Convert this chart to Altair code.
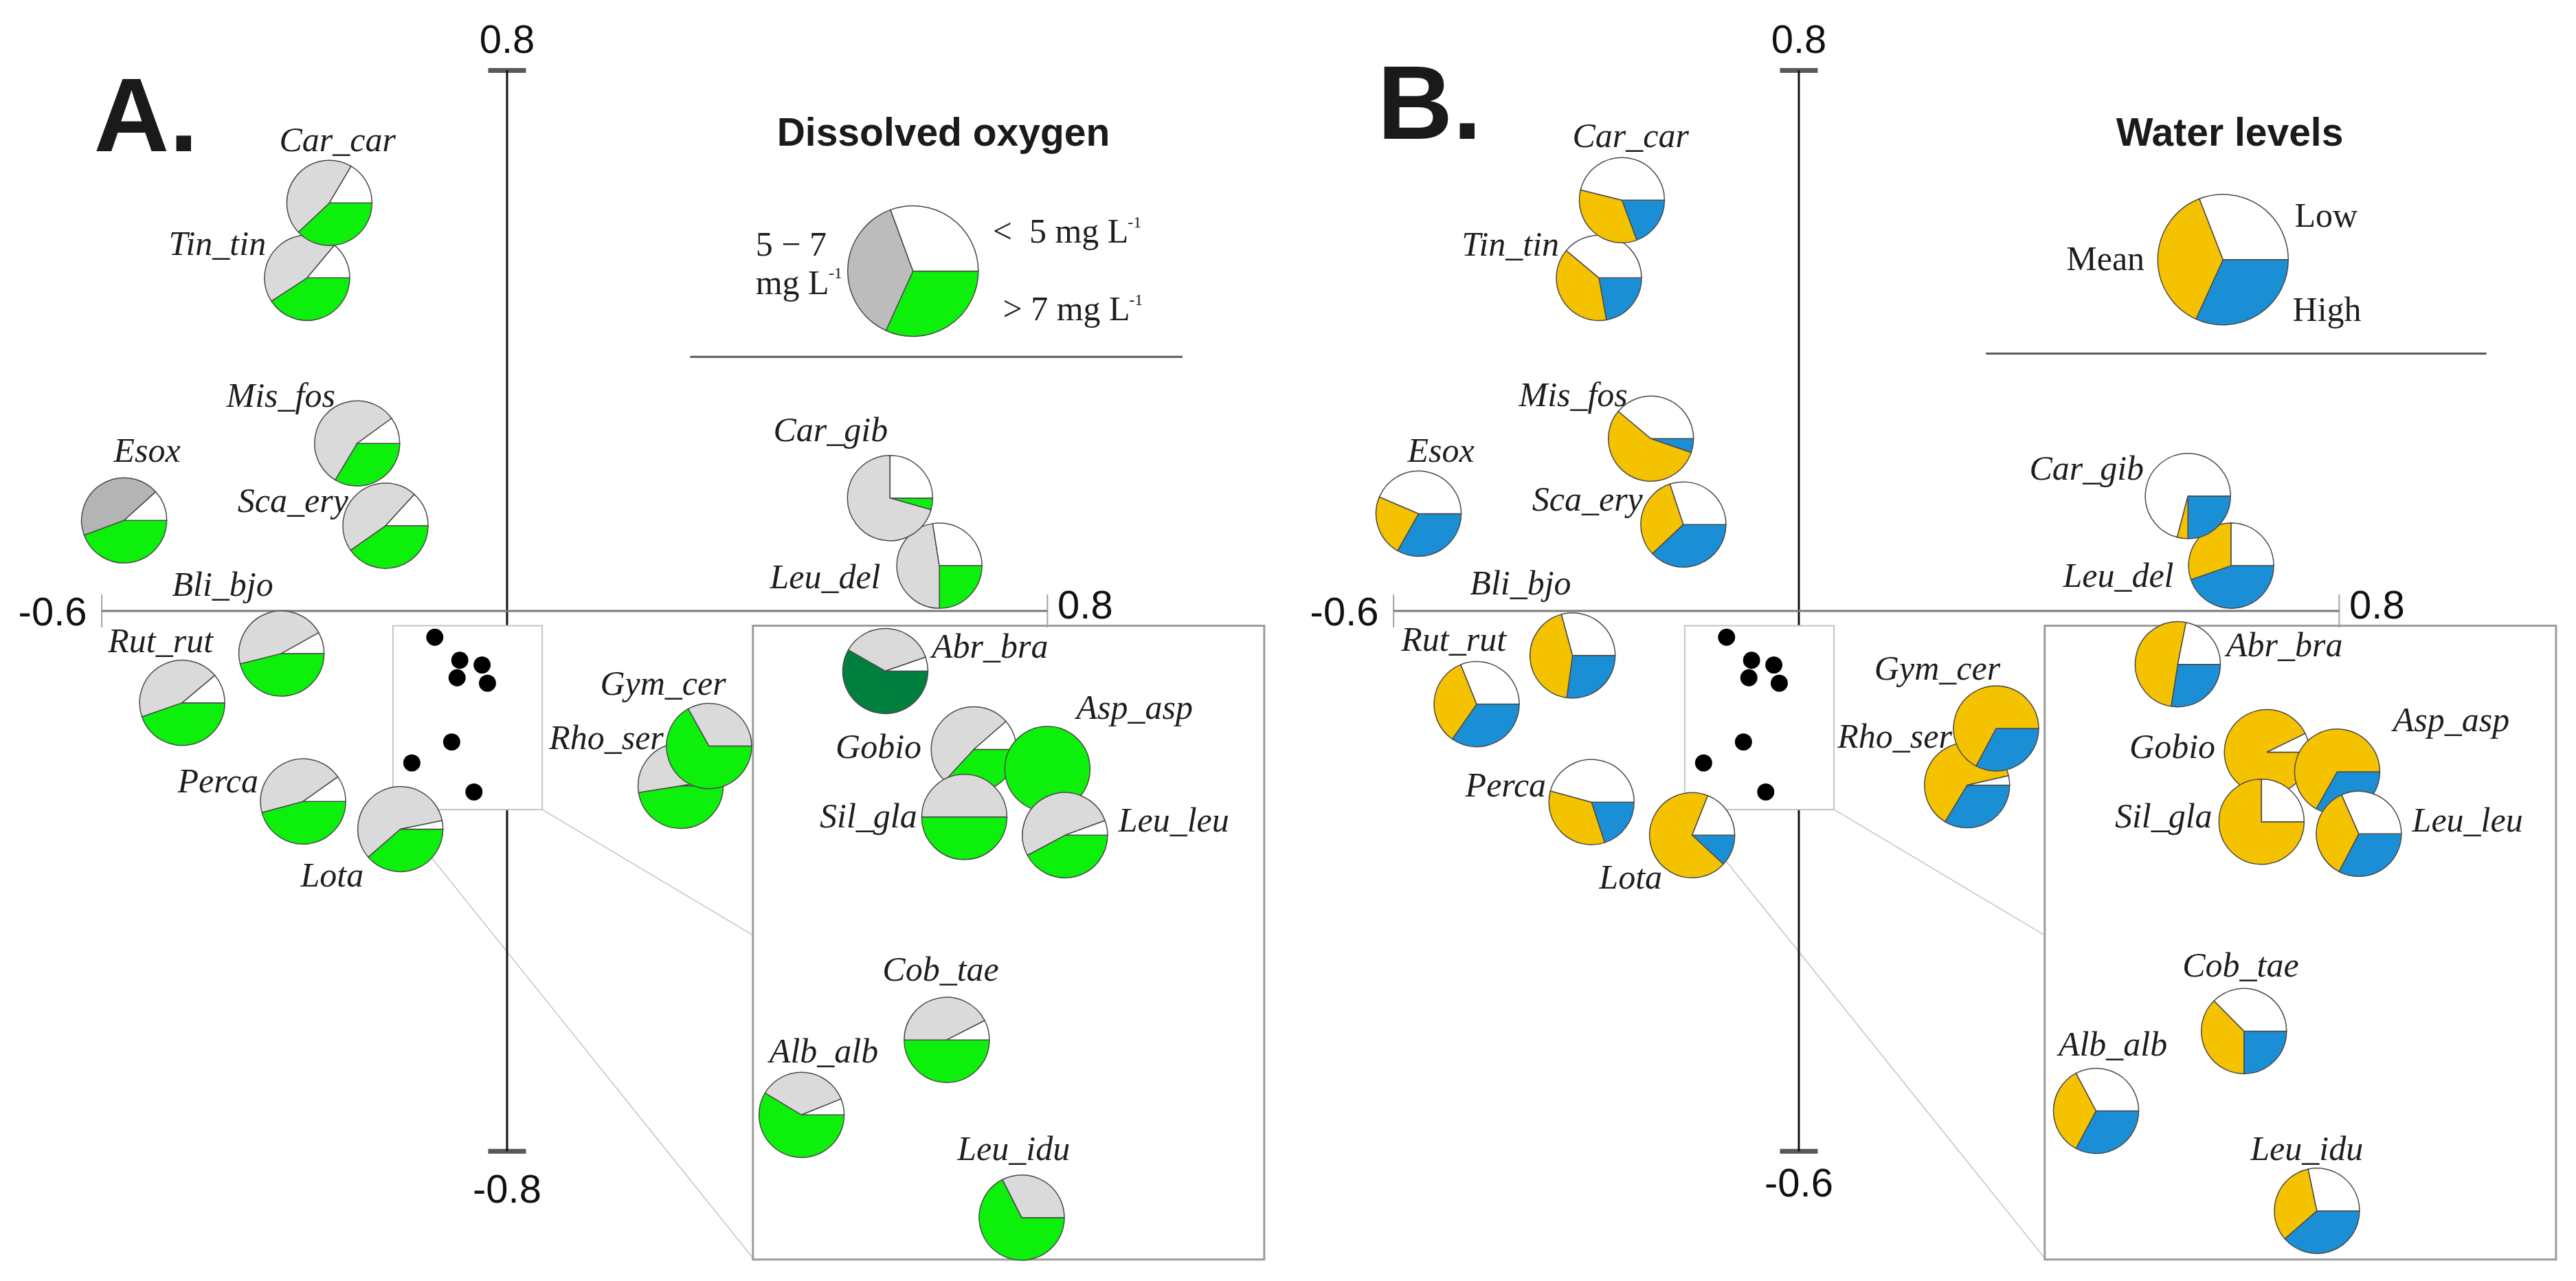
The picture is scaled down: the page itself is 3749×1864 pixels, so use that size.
import math
import altair as alt
import pandas as pd

# ---------------- data (ordination scores) ----------------
species = ["Esox", "Mis_fos", "Sca_ery", "Tin_tin", "Car_car", "Bli_bjo", "Rut_rut", "Perca", "Lota",
           "Leu_del", "Car_gib", "Rho_ser", "Gym_cer", "Abr_bra", "Gobio", "Asp_asp", "Sil_gla",
           "Leu_leu", "Cob_tae", "Alb_alb", "Leu_idu"]

# Panel A: pie centres and label anchors
a_x = [-0.567, -0.222, -0.180, -0.296, -0.263, -0.334, -0.481, -0.302, -0.158,
       0.640, 0.567, 0.257, 0.299, 0.560, 0.691, 0.800, 0.677, 0.826, 0.651, 0.436, 0.762]
a_y = [0.134, 0.248, 0.126, 0.493, 0.604, -0.063, -0.136, -0.282, -0.323,
       0.067, 0.167, -0.259, -0.200, -0.089, -0.205, -0.234, -0.305, -0.332, -0.635, -0.746, -0.898]
a_lx = [-0.533, -0.335, -0.317, -0.429, -0.251, -0.421, -0.513, -0.428, -0.259,
        0.471, 0.479, 0.147, 0.231, 0.715, 0.550, 0.929, 0.535, 0.987, 0.642, 0.469, 0.750]
a_ly = [0.221, 0.302, 0.146, 0.527, 0.681, 0.022, -0.061, -0.269, -0.408,
        0.034, 0.251, -0.205, -0.124, -0.069, -0.218, -0.160, -0.320, -0.327, -0.547, -0.668, -0.813]
# Dissolved oxygen shares: > 7, 5-7, < 5 mg/L
do_high = [0.444, 0.336, 0.403, 0.408, 0.380, 0.461, 0.447, 0.458, 0.386,
           0.250, 0.044, 0.475, 0.669, 0.583, 0.369, 1.000, 0.500, 0.422, 0.500, 0.586, 0.675]
do_mid = [0.439, 0.564, 0.465, 0.453, 0.455, 0.458, 0.442, 0.444, 0.582,
          0.475, 0.706, 0.500, 0.331, 0.364, 0.517, 0.000, 0.500, 0.522, 0.425, 0.353, 0.325]
do_low = [0.117, 0.100, 0.132, 0.139, 0.165, 0.081, 0.111, 0.098, 0.032,
          0.275, 0.250, 0.025, 0.000, 0.053, 0.114, 0.000, 0.000, 0.056, 0.075, 0.061, 0.000]
do_legend = [0.318, 0.376, 0.306]

# Panel B
b_x = [-0.563, -0.219, -0.171, -0.296, -0.262, -0.335, -0.477, -0.307, -0.158,
       0.640, 0.576, 0.249, 0.292, 0.561, 0.693, 0.797, 0.685, 0.829, 0.659, 0.440, 0.767]
b_y = [0.144, 0.255, 0.128, 0.493, 0.608, -0.066, -0.138, -0.283, -0.332,
       0.067, 0.170, -0.258, -0.174, -0.079, -0.209, -0.238, -0.312, -0.330, -0.622, -0.740, -0.888]
b_lx = [-0.530, -0.334, -0.313, -0.427, -0.249, -0.412, -0.511, -0.434, -0.249,
        0.473, 0.426, 0.142, 0.205, 0.719, 0.553, 0.966, 0.540, 0.990, 0.654, 0.465, 0.752]
b_ly = [0.221, 0.303, 0.149, 0.526, 0.687, 0.024, -0.059, -0.275, -0.411,
        0.036, 0.194, -0.202, -0.102, -0.067, -0.218, -0.178, -0.320, -0.327, -0.541, -0.658, -0.813]
# Water level shares: High, Mean, Low
wl_high = [0.332, 0.053, 0.380, 0.222, 0.193, 0.272, 0.347, 0.200, 0.119,
           0.447, 0.250, 0.336, 0.328, 0.275, 0.000, 0.332, 0.000, 0.327, 0.250, 0.328, 0.386]
wl_mean = [0.232, 0.558, 0.319, 0.389, 0.346, 0.436, 0.342, 0.342, 0.691,
           0.303, 0.041, 0.628, 0.672, 0.506, 0.928, 0.668, 0.750, 0.357, 0.376, 0.344, 0.331]
wl_low = [0.436, 0.389, 0.301, 0.389, 0.461, 0.292, 0.311, 0.458, 0.190,
          0.250, 0.709, 0.036, 0.000, 0.219, 0.072, 0.000, 0.250, 0.316, 0.374, 0.328, 0.283]
wl_legend = [0.318, 0.373, 0.309]

# black dots in the small inset box
dot_x = [-0.107, -0.070, -0.037, -0.074, -0.029, -0.082, -0.141, -0.049]
dot_y = [-0.039, -0.073, -0.080, -0.099, -0.107, -0.194, -0.225, -0.268]

# ---------------- layout / style ----------------
XD = [-0.7426, 1.1394]
YD = [-0.9807, 0.8962]
PW, PH = 1850, 1845
THETA_SCALE = alt.Scale(domain=[0, 1], range=[math.pi / 2, 2.5 * math.pi])


def X(f):
    return alt.X(f, scale=alt.Scale(domain=XD, nice=False, zero=False), axis=None)


def Y(f):
    return alt.Y(f, scale=alt.Scale(domain=YD, nice=False, zero=False), axis=None)


def pie_df(xs, ys, names, shares, colors, overrides):
    rows = []
    for i, sp in enumerate(names):
        for k in range(3):
            p = shares[k][i]
            if p > 0:
                col = overrides.get(sp, {}).get(k, colors[k])
                rows.append({"sp": sp, "x": xs[i], "y": ys[i], "k": k, "p": p,
                             "z": i * 3 + k, "col": col})
    return pd.DataFrame(rows)


def pie_layer(df, radius):
    return alt.Chart(df).transform_window(
        c1="sum(p)", groupby=["sp"], sort=[alt.SortField("k", order="ascending")], frame=[None, 0]
    ).transform_calculate(c0="datum.c1 - datum.p").mark_arc(
        outerRadius=radius, stroke="#4a4a4a", strokeWidth=1.5
    ).encode(
        x=X("x:Q"), y=Y("y:Q"),
        theta=alt.Theta("c0:Q", scale=THETA_SCALE, stack=None),
        theta2=alt.Theta2("c1"),
        color=alt.Color("col:N", scale=None),
        order=alt.Order("z:Q"),
    )


def text_layer(df, **kw):
    return alt.Chart(df).mark_text(**kw).encode(x=X("x:Q"), y=Y("y:Q"), text="t:N")


def panel(letter, title, xs, ys, lxs, lys, shares, colors, overrides,
          legend_xy, legend_shares, legend_colors, legend_texts, sup_texts, bottom_label, legend_line):
    # connectors from small box to the magnified box
    conn = pd.DataFrame({"x": [0.052, -0.169], "y": [-0.294, -0.294],
                         "x2": [0.364, 0.364], "y2": [-0.480, -0.958]})
    connectors = alt.Chart(conn).mark_rule(color="#c4c4c4", strokeWidth=1.5).encode(
        x=X("x:Q"), y=Y("y:Q"), x2="x2:Q", y2="y2:Q")

    vaxis = alt.Chart(pd.DataFrame({"x": [0], "y": [0.8], "y2": [-0.8]})).mark_rule(
        color="#111111", strokeWidth=3).encode(x=X("x:Q"), y=Y("y:Q"), y2="y2:Q")
    haxis = alt.Chart(pd.DataFrame({"x": [-0.6], "x2": [0.8], "y": [0]})).mark_rule(
        color="#7a7a7a", strokeWidth=3).encode(x=X("x:Q"), x2="x2:Q", y=Y("y:Q"))
    vcaps = alt.Chart(pd.DataFrame({"x": [0, 0], "y": [0.8, -0.8]})).mark_tick(
        orient="horizontal", size=55, thickness=7, color="#111111").encode(x=X("x:Q"), y=Y("y:Q"))
    hcaps = alt.Chart(pd.DataFrame({"x": [-0.6, 0.8], "y": [0, 0]})).mark_tick(
        orient="vertical", size=48, thickness=2, color="#7a7a7a").encode(x=X("x:Q"), y=Y("y:Q"))

    small_box = alt.Chart(pd.DataFrame({"x": [-0.169], "x2": [0.052], "y": [-0.022], "y2": [-0.294]})).mark_rect(
        fill="white", stroke="#c4c4c4", strokeWidth=2).encode(x=X("x:Q"), x2="x2:Q", y=Y("y:Q"), y2="y2:Q")
    big_box = alt.Chart(pd.DataFrame({"x": [0.364], "x2": [1.121], "y": [-0.022], "y2": [-0.960]})).mark_rect(
        fillOpacity=0, stroke="#9c9c9c", strokeWidth=3).encode(x=X("x:Q"), x2="x2:Q", y=Y("y:Q"), y2="y2:Q")

    dots = alt.Chart(pd.DataFrame({"x": dot_x, "y": dot_y})).mark_circle(
        size=620, color="black", opacity=1).encode(x=X("x:Q"), y=Y("y:Q"))

    lline = alt.Chart(pd.DataFrame({"x": [legend_line[0]], "x2": [legend_line[1]], "y": [legend_line[2]]})).mark_rule(
        color="#5a5a5a", strokeWidth=3).encode(x=X("x:Q"), x2="x2:Q", y=Y("y:Q"))

    labels = text_layer(pd.DataFrame({"x": lxs, "y": lys, "t": species}),
                        font="Liberation Serif", fontStyle="italic", fontSize=50, color="#1e1e1e",
                        align="center", baseline="alphabetic")

    pies = pie_layer(pie_df(xs, ys, species, shares, colors, overrides), 62)
    lpie = pie_layer(pie_df([legend_xy[0]], [legend_xy[1]], ["legend"],
                            [[v] for v in legend_shares], legend_colors, {}), 95)

    ticks_c = text_layer(pd.DataFrame({"x": [0, 0], "y": [0.826, bottom_label[1]], "t": ["0.8", bottom_label[0]]}),
                         font="Liberation Sans", fontSize=58, color="#111111", align="center", baseline="alphabetic")
    tick_l = text_layer(pd.DataFrame({"x": [-0.622], "y": [-0.021], "t": ["-0.6"]}),
                        font="Liberation Sans", fontSize=58, color="#111111", align="right", baseline="alphabetic")
    tick_r = text_layer(pd.DataFrame({"x": [0.815], "y": [-0.011], "t": ["0.8"]}),
                        font="Liberation Sans", fontSize=58, color="#111111", align="left", baseline="alphabetic")

    layers = [connectors, vaxis, haxis, vcaps, hcaps, small_box, big_box, dots, lline,
              labels, pies, lpie, ticks_c, tick_l, tick_r]

    layers.append(text_layer(pd.DataFrame(legend_texts, columns=["t", "x", "y"]),
                             font="Liberation Serif", fontSize=50, color="#1e1e1e",
                             align="left", baseline="alphabetic"))
    if sup_texts:
        layers.append(text_layer(pd.DataFrame(sup_texts, columns=["t", "x", "y"]),
                                 font="Liberation Serif", fontSize=24, color="#1e1e1e",
                                 align="left", baseline="alphabetic"))
    layers.append(text_layer(pd.DataFrame({"x": [title[1]], "y": [title[2]], "t": [title[0]]}),
                             font="Liberation Sans", fontWeight="bold", fontSize=57, color="#1a1a1a",
                             align="center", baseline="alphabetic"))
    layers.append(text_layer(pd.DataFrame({"x": [letter[1]], "y": [letter[2]], "t": [letter[0]]}),
                             font="Liberation Sans", fontWeight="bold", fontSize=152, color="#1a1a1a",
                             align="left", baseline="alphabetic"))

    return alt.layer(*layers).properties(width=PW, height=PH)


GREEN, GREY, WHITE = "#0cf00c", "#dadada", "#ffffff"
BLUE, YELLOW = "#1a8fd6", "#f5c200"

panel_a = panel(
    ("A.", -0.612, 0.681), ("Dissolved oxygen", 0.646, 0.689),
    a_x, a_y, a_lx, a_ly, [do_high, do_mid, do_low], [GREEN, GREY, WHITE],
    {"Abr_bra": {0: "#00803e"}, "Esox": {1: "#b4b4b4"}},
    (0.601, 0.503), do_legend, [GREEN, "#bcbcbc", WHITE],
    [["<\u00a0\u00a05 mg L", 0.719, 0.545], ["5 − 7", 0.368, 0.526], ["mg L", 0.368, 0.469],
     ["> 7 mg L", 0.734, 0.430]],
    [["-1", 0.919, 0.568], ["-1", 0.476, 0.492], ["-1", 0.921, 0.453]],
    ("-0.8", -0.876), (0.271, 1.000, 0.376))

panel_b = panel(
    ("B.", -0.624, 0.699), ("Water levels", 0.638, 0.689),
    b_x, b_y, b_lx, b_ly, [wl_high, wl_mean, wl_low], [BLUE, YELLOW, WHITE], {},
    (0.628, 0.520), wl_legend, [BLUE, YELLOW, WHITE],
    [["Low", 0.734, 0.569], ["Mean", 0.396, 0.505], ["High", 0.731, 0.429]],
    [],
    ("-0.6", -0.867), (0.277, 1.018, 0.381))

chart = alt.hconcat(panel_a, panel_b, spacing=30).configure_view(stroke=None).properties(
    padding=0, background="white")

chart.save("out.html", embed_options={"renderer": "svg", "actions": False})
